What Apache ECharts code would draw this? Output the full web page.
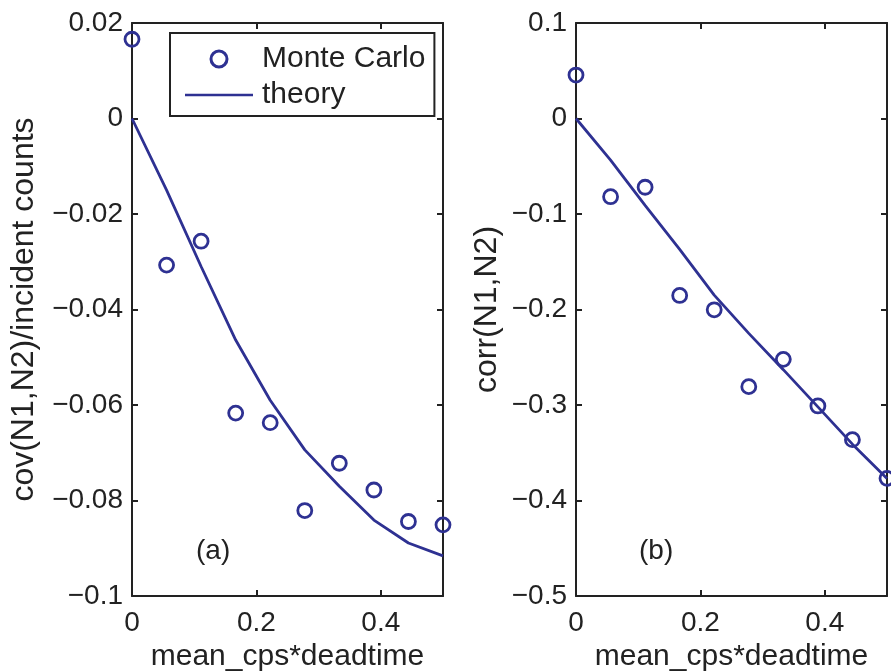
<!DOCTYPE html>
<html>
<head>
<meta charset="utf-8">
<script src="https://cdn.jsdelivr.net/npm/echarts@6/dist/echarts.min.js"></script>
<style>
html,body{margin:0;padding:0;background:#fff;}
#chart{width:891px;height:671px;}
</style>
</head>
<body>
<div id="chart"></div>
<script>
// ---- data ----
var xVals = [0, 0.0556, 0.1111, 0.1667, 0.2222, 0.2778, 0.3333, 0.3889, 0.4444, 0.5];
var covMC = [0.0166, -0.0307, -0.0257, -0.0617, -0.0637, -0.0821, -0.0722, -0.0778, -0.0844, -0.0851];
var covTheory = [0, -0.0150, -0.0310, -0.0464, -0.0590, -0.0694, -0.0770, -0.0841, -0.0889, -0.0916];
var corrMC = [0.0455, -0.0819, -0.0720, -0.1853, -0.2003, -0.2808, -0.2522, -0.3010, -0.3363, -0.3768];
var corrTheory = [0, -0.0435, -0.0910, -0.1370, -0.1850, -0.2250, -0.2630, -0.3020, -0.3410, -0.3770];
var xTicks = {min: 0, max: 0.5, interval: 0.2};
var yTicksA = {min: -0.1, max: 0.02, interval: 0.02};
var yTicksB = {min: -0.5, max: 0.1, interval: 0.1};
var xLabel = 'mean_cps*deadtime';
var yLabelA = 'cov(N1,N2)/incident counts';
var yLabelB = 'corr(N1,N2)';
var seriesNames = ['Monte Carlo', 'theory'];
var panelTags = ['(a)', '(b)'];

var FONT = '"Liberation Sans", Arial, Helvetica, sans-serif';
var INK = '#222';
var BLUE = '#2e3192';

function pair(xs, ys) { return xs.map(function (x, i) { return [x, ys[i]]; }); }
function fmt(v) {
  var s = String(Number(Math.abs(v).toFixed(4)));
  return (v < -1e-9 ? '\u2212' : '') + s;
}

function xAxisFor(grid, pos) {
  var lab = pos === 'bottom';
  return {
    type: 'value', gridIndex: grid, position: pos,
    min: xTicks.min, max: xTicks.max, interval: xTicks.interval,
    axisLine: {show: true, onZero: false, lineStyle: {color: INK, width: 2}},
    axisTick: {show: true, inside: true, length: 6, lineStyle: {color: INK, width: 2}},
    axisLabel: {show: lab, margin: 13, fontSize: 28, color: INK, fontFamily: FONT, showMaxLabel: false, formatter: fmt},
    splitLine: {show: false},
    name: lab ? xLabel : '', nameLocation: 'middle', nameGap: 44,
    nameTextStyle: {fontSize: 30, color: INK, fontFamily: FONT}
  };
}
function yAxisFor(grid, pos, t, name, gap) {
  var lab = pos === 'left';
  return {
    type: 'value', gridIndex: grid, position: pos,
    min: t.min, max: t.max, interval: t.interval,
    axisLine: {show: true, onZero: false, lineStyle: {color: INK, width: 2}},
    axisTick: {show: true, inside: true, length: 6, lineStyle: {color: INK, width: 2}},
    axisLabel: {show: lab, margin: 9, fontSize: 28, color: INK, fontFamily: FONT, formatter: fmt},
    splitLine: {show: false},
    name: lab ? name : '', nameLocation: 'middle', nameGap: gap,
    nameTextStyle: {fontSize: 32, color: INK, fontFamily: FONT}
  };
}
function scatter(xi, ys) {
  return {
    type: 'scatter', name: seriesNames[0], xAxisIndex: xi, yAxisIndex: xi,
    data: pair(xVals, ys), symbol: 'circle', symbolSize: 14, clip: false, z: 5,
    itemStyle: {color: 'rgba(255,255,255,0)', borderColor: BLUE, borderWidth: 2.8, opacity: 1}
  };
}
function line(xi, ys) {
  return {
    type: 'line', name: seriesNames[1], xAxisIndex: xi, yAxisIndex: xi,
    data: pair(xVals, ys), symbol: 'none', showSymbol: false, smooth: false,
    lineStyle: {color: BLUE, width: 2.8}, itemStyle: {color: BLUE}, z: 4
  };
}

var chart = echarts.init(document.getElementById('chart'), null, {renderer: 'canvas'});
chart.setOption({
  animation: false,
  backgroundColor: '#fff',
  grid: [
    {left: 132, top: 23, width: 311, height: 573, outerBoundsMode: 'none', containLabel: false},
    {left: 576, top: 23, width: 311, height: 573, outerBoundsMode: 'none', containLabel: false}
  ],
  xAxis: [xAxisFor(0, 'bottom'), xAxisFor(0, 'top'), xAxisFor(1, 'bottom'), xAxisFor(1, 'top')],
  yAxis: [
    yAxisFor(0, 'left', yTicksA, yLabelA, 92), yAxisFor(0, 'right', yTicksA, '', 0),
    yAxisFor(1, 'left', yTicksB, yLabelB, 73), yAxisFor(1, 'right', yTicksB, '', 0)
  ],
  legend: {
    left: 170, top: 33, orient: 'vertical', selectedMode: false,
    padding: [11, 9, 6, 15], itemWidth: 68, itemHeight: 16, itemGap: 6,
    backgroundColor: '#fff', borderColor: INK, borderWidth: 2, borderRadius: 0,
    textStyle: {fontSize: 30, color: INK, fontFamily: FONT, lineHeight: 30, padding: [0, 0, 0, 4]},
    data: [
      {name: seriesNames[0], icon: 'circle',
       itemStyle: {color: 'rgba(255,255,255,0)', borderColor: BLUE, borderWidth: 3, opacity: 1}},
      {name: seriesNames[1], icon: 'path://M0,0H100V4H0Z'}
    ]
  },
  graphic: [
    {type: 'text', left: 196, top: 537, style: {text: panelTags[0], fontSize: 28, fill: INK, fontFamily: FONT}},
    {type: 'text', left: 639, top: 537, style: {text: panelTags[1], fontSize: 28, fill: INK, fontFamily: FONT}}
  ],
  series: [scatter(0, covMC), line(0, covTheory), scatter(2, corrMC), line(2, corrTheory)]
});
</script>
</body>
</html>
